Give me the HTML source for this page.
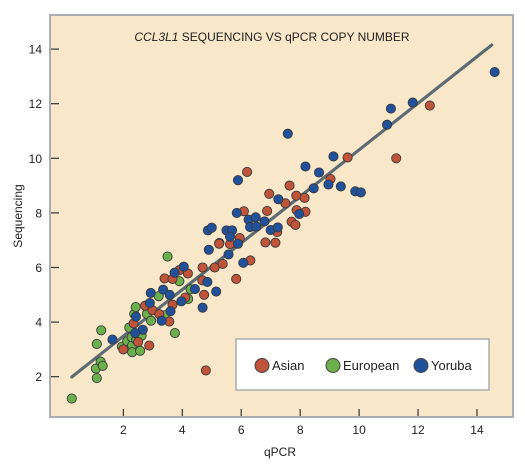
<!DOCTYPE html>
<html><head><meta charset="utf-8"><style>
body{margin:0;background:#fff;width:525px;height:470px;overflow:hidden;font-family:"Liberation Sans",sans-serif}
svg text{font-family:"Liberation Sans",sans-serif;fill:#222}
</style></head><body>
<svg id="chart" width="525" height="470" xmlns="http://www.w3.org/2000/svg">
<rect x="50" y="15" width="463" height="402" fill="#f8e8c9" stroke="#a9adb1" stroke-width="2"/>
<text x="272" y="41" text-anchor="middle" font-size="12"><tspan font-style="italic">CCL3L1</tspan> SEQUENCING VS qPCR COPY NUMBER</text>
<text transform="translate(22,216) rotate(-90)" text-anchor="middle" font-size="12">Sequencing</text>
<text x="280" y="456" text-anchor="middle" font-size="12">qPCR</text>
<g id="axes"></g><g id="fit"></g><g id="points"></g>
<g>
<rect x="236" y="339" width="253" height="51" fill="#fff" stroke="#a9adb1" stroke-width="1.5"/>
<circle cx="262" cy="365.5" r="7" fill="#c0543a" stroke="#444" stroke-width="1"/>
<text x="272" y="370" font-size="13">Asian</text>
<circle cx="333" cy="365.5" r="7" fill="#6cb04e" stroke="#444" stroke-width="1"/>
<text x="343" y="370" font-size="13">European</text>
<circle cx="421" cy="365.5" r="7" fill="#22519b" stroke="#444" stroke-width="1"/>
<text x="431" y="370" font-size="13">Yoruba</text>
</g>
</svg>
<script>
const xTicks=[2,4,6,8,10,12,14];
const yTicks=[2,4,6,8,10,12,14];
const fitLine=[[0.25,1.99],[14.5,14.15]];
const asianX=[2.35,2.0,2.5,2.88,2.74,2.99,3.22,3.56,3.67,3.4,3.67,3.9,4.19,4.1,4.74,4.69,4.68,5.1,5.37,5.26,4.8,6.2,9.61,7.64,9.03,6.95,7.87,8.15,7.5,6.09,6.88,7.88,8.18,7.71,7.84,7.22,5.95,5.25,5.62,6.82,7.16,6.31,5.83,12.4,11.26];
const asianY=[3.95,3.0,3.27,3.14,4.6,4.43,4.29,4.02,4.64,5.6,5.58,5.9,5.78,4.9,5.0,6.0,5.53,6.0,6.13,6.9,2.23,9.5,10.03,9.0,9.24,8.7,8.63,8.55,8.35,8.06,8.07,8.1,8.04,7.68,7.56,7.3,7.08,6.87,6.86,6.92,6.91,6.26,5.58,11.93,10.0];
const europeanX=[0.25,1.1,1.07,1.23,1.3,1.1,1.25,3.5,3.75,1.95,2.13,2.3,2.3,2.57,2.28,2.44,2.62,2.2,2.37,2.42,2.8,2.94,3.4,3.2,3.9,4.28,4.2];
const europeanY=[1.2,1.95,2.3,2.55,2.4,3.2,3.7,6.4,3.6,3.1,3.3,3.15,2.9,2.95,3.45,3.35,3.5,3.8,4.3,4.55,4.3,4.05,4.25,4.95,5.5,5.2,4.85];
const yorubaX=[1.63,2.43,2.66,2.4,2.9,2.93,3.35,3.57,3.3,3.6,3.97,3.74,4.05,4.43,4.85,5.15,4.69,4.9,5.57,7.58,9.13,8.18,8.64,5.89,8.96,9.38,8.46,9.87,10.06,7.26,5.85,6.25,6.49,6.79,6.3,6.51,7.0,7.24,7.97,4.87,5.0,5.5,5.69,5.62,5.89,6.07,14.6,11.82,11.08,10.95];
const yorubaY=[3.36,4.2,3.72,3.6,4.7,5.07,5.19,5.0,4.05,4.4,4.76,5.81,6.03,5.21,5.47,5.12,4.53,6.65,6.48,10.9,10.07,9.7,9.48,9.2,9.04,8.97,8.9,8.79,8.75,8.5,8.0,7.75,7.84,7.69,7.48,7.5,7.37,7.47,7.96,7.36,7.46,7.36,7.36,7.13,6.87,6.17,13.16,12.04,11.82,11.23];
const NS='http://www.w3.org/2000/svg';
function sx(v){return 64.4+v*29.47;}
function sy(v){return 431.3-v*27.3;}
function mk(tag,parent,attrs){const e=document.createElementNS(NS,tag);for(const k in attrs)e.setAttribute(k,attrs[k]);parent.appendChild(e);return e;}
const axes=document.getElementById('axes');
xTicks.forEach(t=>{
  const l=mk('line',axes,{x1:sx(t),x2:sx(t),y1:409,y2:416,stroke:'#333','stroke-width':1.2});
  
  
  const tx=mk('text',axes,{x:sx(t),y:434,'text-anchor':'middle','font-size':12});
  
  
  tx.textContent=t;
});
yTicks.forEach(t=>{
  const l=mk('line',axes,{x1:51,x2:59,y1:sy(t),y2:sy(t),stroke:'#333','stroke-width':1.2});
  
  
  const tx=mk('text',axes,{x:42,y:sy(t)+4.5,'text-anchor':'end','font-size':12});
  
  
  tx.textContent=t;
});
const fl=mk('line',document.getElementById('fit'),{x1:sx(fitLine[0][0]),y1:sy(fitLine[0][1]),x2:sx(fitLine[1][0]),y2:sy(fitLine[1][1]),stroke:'#5f6b73','stroke-width':3.2,'stroke-linecap':'round'});


const pts=document.getElementById('points');
function series(xs,ys,color,name){
  xs.forEach((x,i)=>{
    const c=mk('circle',pts,{cx:sx(x),cy:sy(ys[i]),r:4.6,fill:color,stroke:'#3a3a3a','stroke-width':0.9});
    
    
  });
}
series(europeanX,europeanY,'#6cb04e','european');
series(asianX,asianY,'#c0543a','asian');
series(yorubaX,yorubaY,'#22519b','yoruba');
</script>
</body></html>
